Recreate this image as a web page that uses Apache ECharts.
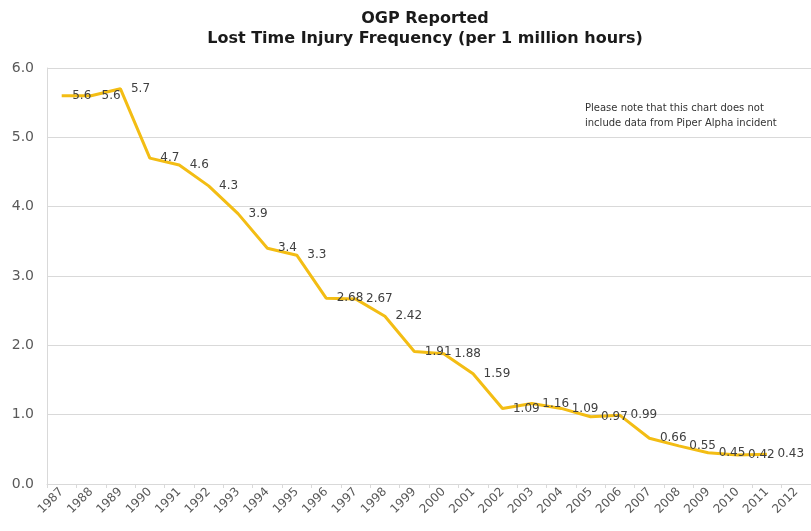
<!DOCTYPE html>
<html>
<head>
<meta charset="utf-8">
<script src="https://cdn.jsdelivr.net/npm/echarts@6/dist/echarts.min.js"></script>
<style>html,body{margin:0;padding:0;background:#fff}#c{width:811px;height:531px}</style>
</head>
<body>
<div id="c"></div>
<script>
var years = ['1987','1988','1989','1990','1991','1992','1993','1994','1995','1996','1997','1998','1999','2000','2001','2002','2003','2004','2005','2006','2007','2008','2009','2010','2011','2012'];
var ltif = [5.6,5.6,5.7,4.7,4.6,4.3,3.9,3.4,3.3,2.68,2.67,2.42,1.91,1.88,1.59,1.09,1.16,1.09,0.97,0.99,0.66,0.55,0.45,0.42,0.43,null];
var yTicks = [0,1,2,3,4,5,6];
var titleText = 'OGP Reported\nLost Time Injury Frequency (per 1 million hours)';
var noteText = 'Please note that this chart does not\ninclude data from Piper Alpha incident';

var chart = echarts.init(document.getElementById('c'));
chart.setOption({
  animation: false,
  backgroundColor: '#ffffff',
  title: {
    text: titleText,
    left: 420, top: 4, textAlign: 'center',
    textStyle: {fontFamily: 'DejaVu Sans', fontWeight: 'bold', fontSize: 16, color: '#1a1a1a', lineHeight: 20}
  },
  graphic: [{
    type: 'text', left: 585, top: 101,
    style: {text: noteText, font: '10px "DejaVu Sans"', fill: '#333', lineHeight: 15}
  }],
  grid: {left: 47, right: -11, top: 68, bottom: 47, containLabel: false},
  xAxis: {
    type: 'category', data: years, boundaryGap: true,
    axisLine: {lineStyle: {color: '#d9d9d9', width: 1}},
    axisTick: {show: true, length: 4, lineStyle: {color: '#d9d9d9'}},
    axisLabel: {rotate: 45, interval: 0, color: '#595959', fontFamily: 'DejaVu Sans', fontSize: 12, margin: 6}
  },
  yAxis: {
    type: 'value', min: yTicks[0], max: yTicks[yTicks.length-1], interval: 1,
    axisLine: {show: true, lineStyle: {color: '#d9d9d9'}},
    axisTick: {show: false},
    splitLine: {lineStyle: {color: '#d9d9d9', width: 1}},
    axisLabel: {formatter: function(v){return v.toFixed(1);}, color: '#595959', fontFamily: 'DejaVu Sans', fontSize: 14, margin: 13}
  },
  series: [{
    type: 'line', data: ltif, symbol: 'circle', symbolSize: 1, showSymbol: true, connectNulls: false,
    itemStyle: {color: 'rgba(0,0,0,0)'},
    lineStyle: {color: '#F3BD14', width: 3},
    labelLayout: {hideOverlap: false},
    label: {show: true, position: 'right', distance: 10, color: '#404040', fontFamily: 'DejaVu Sans', fontSize: 12,
      formatter: function(p){return p.value == null ? '' : String(p.value);}}
  }]
});
</script>
</body>
</html>
